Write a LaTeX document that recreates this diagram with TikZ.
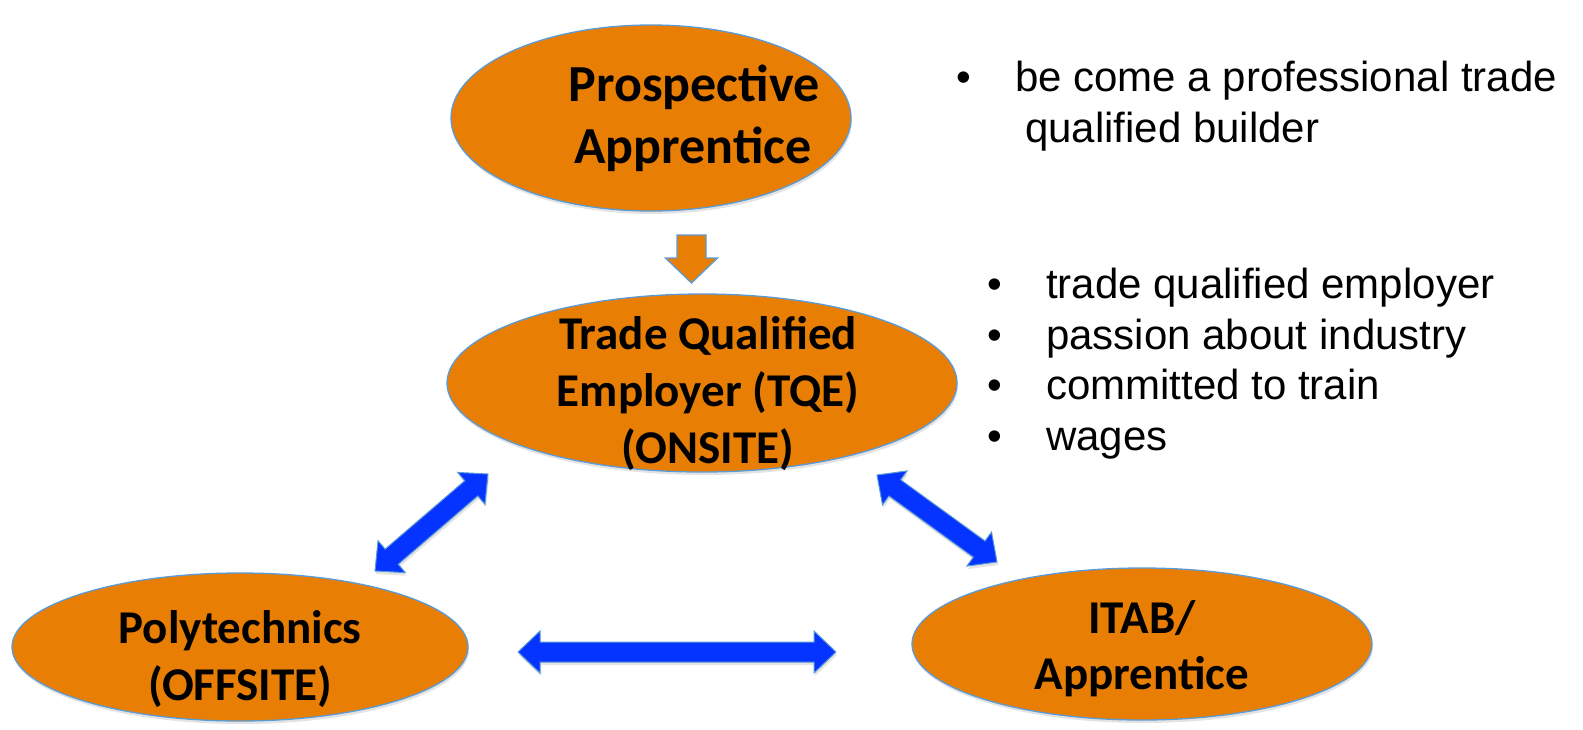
\documentclass[tikz,border=0pt]{standalone}
\usepackage{fontspec}
\setmainfont{Liberation Sans}
\newfontfamily\calfont{Carlito}
\usetikzlibrary{calc,shapes.geometric,shadows}
\definecolor{orangefill}{RGB}{233,126,5}
\definecolor{edgeblue}{RGB}{91,155,213}
\definecolor{arrowblue}{RGB}{5,51,255}
\newcommand\dblblockarrow[2]{%
  \coordinate (ha) at ($(#1)!22pt!(#2)$);
  \coordinate (hb) at ($(#2)!22pt!(#1)$);
  \path[blockarrow] (#1) -- ($(ha)!21pt!90:(#2)$) -- ($(ha)!10pt!90:(#2)$)
    -- ($(hb)!10pt!-90:(#1)$) -- ($(hb)!21pt!-90:(#1)$) -- (#2)
    -- ($(hb)!21pt!90:(#1)$) -- ($(hb)!10pt!90:(#1)$)
    -- ($(ha)!10pt!-90:(#2)$) -- ($(ha)!21pt!-90:(#2)$) -- cycle;}
\begin{document}
\begin{tikzpicture}[x=1pt,y=-1pt,
  oval/.style={ellipse, fill=orangefill, draw=edgeblue, line width=1.3pt, inner sep=0pt,
    drop shadow={opacity=0.22, shadow xshift=1pt, shadow yshift=-3pt}},
  lbl/.style={anchor=base, inner sep=0pt, font=\calfont\bfseries\fontsize{47}{56}\selectfont},
  biglbl/.style={anchor=base, inner sep=0pt, font=\calfont\bfseries\fontsize{52}{62}\selectfont},
  note/.style={anchor=base west, inner sep=0pt, font=\fontsize{42}{50}\selectfont},
  bul/.style={anchor=base, inner sep=0pt, font=\fontsize{42}{50}\selectfont},
  blockarrow/.style={fill=arrowblue, draw=edgeblue, line width=1pt, line join=miter,
    drop shadow={opacity=0.22, shadow xshift=1pt, shadow yshift=-3pt}},
  downarrow/.style={fill=orangefill, draw=edgeblue, line width=1.3pt, line join=miter}
]
\useasboundingbox (0,0) rectangle (1583,729);
\fill[white] (0,0) rectangle (1583,729);

% ellipses
\node[oval, minimum width=400, minimum height=186] (pa) at (651,118) {};
\node[oval, minimum width=510, minimum height=178] (tqe) at (702,383) {};
\node[oval, minimum width=456, minimum height=148] (poly) at (240,647) {};
\node[oval, minimum width=460, minimum height=152] (itab) at (1142,644) {};

% labels
\node[biglbl] (pa1) at (694,101) {Prospective};
\node[biglbl] (pa2) at (693,163) {Apprentice};
\node[lbl] (tq1) at (708,349) {Trade Qualified};
\node[lbl] (tq2) at (708,406) {Employer (TQE)};
\node[lbl] (tq3) at (708,463) {(ONSITE)};
\node[lbl] (po1) at (240,643) {Polytechnics};
\node[lbl] (po2) at (240,700) {(OFFSITE)};
\node[lbl] (it1) at (1142,633) {ITAB/};
\node[lbl] (it2) at (1142,689) {Apprentice};

% down arrow
\coordinate (dtop) at (691.5,235);
\coordinate (dtip) at (691.5,283);
\path[downarrow] ($(dtop)+(-14.5,0)$) -- ($(dtop)+(14.5,0)$) -- ($(dtip)+(14.5,-25)$)
  -- ($(dtip)+(26,-25)$) -- (dtip) -- ($(dtip)+(-26,-25)$) -- ($(dtip)+(-14.5,-25)$) -- cycle;

% double block arrows
\coordinate (la) at (375,571);
\coordinate (lb) at (488,474);
\coordinate (ra) at (877,475);
\coordinate (rb) at (997,562);
\coordinate (ma) at (518,652);
\coordinate (mb) at (836,652);
\dblblockarrow{la}{lb}
\dblblockarrow{ra}{rb}
\dblblockarrow{ma}{mb}

% notes
\node[bul] (b0) at (964,91) {•};
\node[note] (n0) at (1015,91) {be come a professional trade};
\node[note] (n0b) at (1025,142) {qualified builder};
\node[bul] (b1) at (995,298) {•};
\node[note] (n1) at (1046,298) {trade qualified employer};
\node[bul] (b2) at (995,349) {•};
\node[note] (n2) at (1046,349) {passion about industry};
\node[bul] (b3) at (995,399) {•};
\node[note] (n3) at (1046,399) {committed to train};
\node[bul] (b4) at (995,450) {•};
\node[note] (n4) at (1046,450) {wages};
\end{tikzpicture}
\end{document}
